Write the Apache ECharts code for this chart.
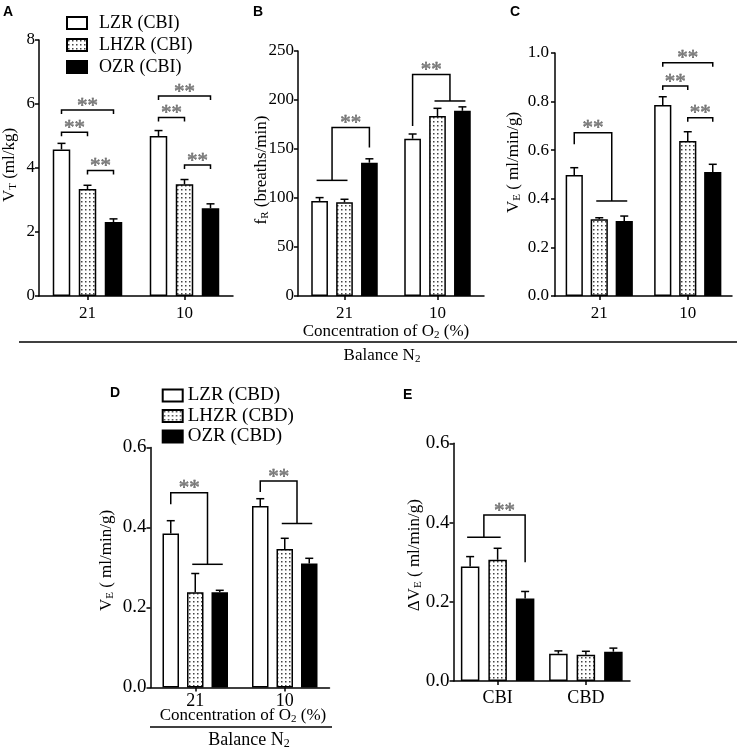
<!DOCTYPE html>
<html>
<head>
<meta charset="utf-8">
<script src="https://cdn.jsdelivr.net/npm/echarts@6/dist/echarts.min.js"></script>
<style>html,body{margin:0;padding:0;background:#fff}#c{width:737px;height:753px}</style>
</head>
<body>
<div id="c"></div>
<script>
// ---------------- data ----------------
const catsO2 = ['21', '10'];
const catsE = ['CBI', 'CBD'];
const namesCBI = ['LZR (CBI)', 'LHZR (CBI)', 'OZR (CBI)'];
const namesCBD = ['LZR (CBD)', 'LHZR (CBD)', 'OZR (CBD)'];
const namesE = ['LZR', 'LHZR', 'OZR'];

// A: VT (ml/kg), CBI
const vtLZR = [4.58, 5.00],  vtLZRerr = [0.19, 0.17];
const vtLHZR = [3.34, 3.49], vtLHZRerr = [0.12, 0.15];
const vtOZR = [2.31, 2.74],  vtOZRerr = [0.10, 0.14];
// B: fR (breaths/min), CBI
const frLZR = [97, 160.5],   frLZRerr = [3.4, 4.8];
const frLHZR = [95.6, 183.7], frLHZRerr = [3.1, 7.8];
const frOZR = [136, 189],    frOZRerr = [4, 4];
// C: VE (ml/min/g), CBI
const veCbiLZR = [0.498, 0.786],  veCbiLZRerr = [0.030, 0.034];
const veCbiLHZR = [0.316, 0.638], veCbiLHZRerr = [0.006, 0.038];
const veCbiOZR = [0.309, 0.510],  veCbiOZRerr = [0.020, 0.032];
// D: VE (ml/min/g), CBD
const veCbdLZR = [0.385, 0.454],  veCbdLZRerr = [0.032, 0.018];
const veCbdLHZR = [0.238, 0.346], veCbdLHZRerr = [0.047, 0.027];
const veCbdOZR = [0.238, 0.310],  veCbdOZRerr = [0.005, 0.013];
// E: delta VE (ml/min/g)
const dveLZR = [0.289, 0.069],  dveLZRerr = [0.025, 0.007];
const dveLHZR = [0.306, 0.066], dveLHZRerr = [0.029, 0.009];
const dveOZR = [0.208, 0.074],  dveOZRerr = [0.018, 0.009];

// y axis ticks [min, max, interval]
const ticksA = [0, 8, 2];
const ticksB = [0, 250, 50];
const ticksC = [0, 1, 0.2];
const ticksD = [0, 0.6, 0.2];
const ticksE = [0, 0.6, 0.2];

// significance brackets (values in data units; a/b/single = bar index in group)
const sigA = [
  {type: 'pair', cat: 0, a: 0, b: 1, y: 5.12},
  {type: 'pair', cat: 0, a: 0, b: 2, y: 5.81},
  {type: 'pair', cat: 0, a: 1, b: 2, y: 3.92},
  {type: 'pair', cat: 1, a: 0, b: 1, y: 5.58},
  {type: 'pair', cat: 1, a: 0, b: 2, y: 6.25},
  {type: 'pair', cat: 1, a: 1, b: 2, y: 4.09}
];
const sigB = [
  {type: 'group', cat: 0, g: [0, 1], single: 2, lineY: 118, bracketY: 172, legY: 151.6},
  {type: 'group', cat: 1, g: [1, 2], single: 0, lineY: 199, bracketY: 226, legY: 173.5}
];
const sigC = [
  {type: 'group', cat: 0, g: [1, 2], single: 0, lineY: 0.391, bracketY: 0.672, legY: 0.624},
  {type: 'pair', cat: 1, a: 0, b: 1, y: 0.864},
  {type: 'pair', cat: 1, a: 0, b: 2, y: 0.96},
  {type: 'pair', cat: 1, a: 1, b: 2, y: 0.734}
];
const sigD = [
  {type: 'group', cat: 0, g: [1, 2], single: 0, lineY: 0.308, bracketY: 0.487, legY: 0.458},
  {type: 'group', cat: 1, g: [1, 2], single: 0, lineY: 0.41, bracketY: 0.516, legY: 0.489}
];
const sigE = [
  {type: 'group', cat: 0, g: [0, 1], single: 2, lineY: 0.363, bracketY: 0.419, legY: 0.30}
];

// ---------------- styles / layout ----------------
const FONT = 'Liberation Serif';
function dotPattern() {
  const c = document.createElement('canvas');
  c.width = 4; c.height = 4;
  const g = c.getContext('2d');
  g.fillStyle = '#fff'; g.fillRect(0, 0, 4, 4);
  g.fillStyle = '#444'; g.fillRect(1, 1, 1.5, 1.5);
  return c;
}
const DOTS = {image: dotPattern(), repeat: 'repeat'};
const barStyles = [
  {color: '#fff', borderColor: '#000', borderWidth: 1.5},
  {color: DOTS, borderColor: '#000', borderWidth: 1.5},
  {color: '#000', borderColor: '#000', borderWidth: 1.5}
];
const subRich = (size, sub, pad) => ({
  m: {fontSize: size, fontFamily: FONT, color: '#000', fill: '#000'},
  s: {fontSize: sub, fontFamily: FONT, color: '#000', fill: '#000', padding: [pad, 0, 0, 0]}
});

const panels = [
  {grid: {left: 39, top: 40, width: 194, height: 256}, cats: catsO2, names: namesCBI,
   vals: [[vtLZR, vtLZRerr], [vtLHZR, vtLHZRerr], [vtOZR, vtOZRerr]], ticks: ticksA, dec: 0,
   barW: 17.5, gap: 8.5, yName: '{m|V}{s|T}{m| (ml/kg)}', nameGap: 20, namePad: 6,
   sig: sigA, yFont: 17, xFont: 17, xMargin: 9, yMargin: 4},
  {grid: {left: 298, top: 51, width: 186, height: 245}, cats: catsO2, names: namesCBI,
   vals: [[frLZR, frLZRerr], [frLHZR, frLHZRerr], [frOZR, frOZRerr]], ticks: ticksB, dec: 0,
   barW: 16.7, gap: 8.2, yName: '{m|f}{s|R}{m| (breaths/min)}', nameGap: 27, namePad: 7,
   sig: sigB, yFont: 17, xFont: 17, xMargin: 9, yMargin: 4},
  {grid: {left: 555, top: 53, width: 177, height: 243}, cats: catsO2, names: namesCBI,
   vals: [[veCbiLZR, veCbiLZRerr], [veCbiLHZR, veCbiLHZRerr], [veCbiOZR, veCbiOZRerr]], ticks: ticksC, dec: 1,
   barW: 17.2, gap: 7.8, yName: '{m|V}{s|E}{m| ( ml/min/g)}', nameGap: 32, namePad: 24,
   sig: sigC, yFont: 17, xFont: 17, xMargin: 9, yMargin: 6},
  {grid: {left: 150.5, top: 447.5, width: 179, height: 240}, cats: catsO2, names: namesCBD,
   vals: [[veCbdLZR, veCbdLZRerr], [veCbdLHZR, veCbdLHZRerr], [veCbdOZR, veCbdOZRerr]], ticks: ticksD, dec: 1,
   barW: 16.5, gap: 8, yName: '{m|V}{s|E}{m| ( ml/min/g)}', nameGap: 34.5, namePad: 14,
   sig: sigD, yFont: 19, xFont: 18, xMargin: 5, yMargin: 4},
  {grid: {left: 453.5, top: 443.3, width: 176.5, height: 237.7}, cats: catsE, names: namesE,
   vals: [[dveLZR, dveLZRerr], [dveLHZR, dveLHZRerr], [dveOZR, dveOZRerr]], ticks: ticksE, dec: 1,
   barW: 18.5, gap: 9, yName: '{m|ΔV}{s|E}{m| ( ml/min/g)}', nameGap: 30, namePad: 14,
   sig: sigE, yFont: 19, xFont: 18, xMargin: 8, yMargin: 4}
];

// ---------------- option ----------------
const grids = [], xAxes = [], yAxes = [], series = [];
const axisLine = {show: true, lineStyle: {color: '#000', width: 1.5}};
const axisTick = {show: true, length: 4, lineStyle: {color: '#000', width: 1.5}};

panels.forEach((p, pi) => {
  grids.push(Object.assign({outerBoundsMode: 'none', containLabel: false}, p.grid));
  xAxes.push({type: 'category', gridIndex: pi, data: p.cats, boundaryGap: true,
    axisLine, axisTick: Object.assign({alignWithLabel: true}, axisTick),
    axisLabel: {color: '#000', fontFamily: FONT, fontSize: p.xFont, margin: p.xMargin},
    splitLine: {show: false}});
  yAxes.push({type: 'value', gridIndex: pi, min: p.ticks[0], max: p.ticks[1], interval: p.ticks[2],
    axisLine, axisTick,
    axisLabel: {color: '#000', fontFamily: FONT, fontSize: p.yFont, margin: p.yMargin,
      formatter: v => v.toFixed(p.dec)},
    splitLine: {show: false},
    name: p.yName, nameLocation: 'middle', nameGap: p.nameGap, nameMoveOverlap: false,
    nameTextStyle: {rich: subRich(17, 11, 7), padding: [0, 0, 0, p.namePad]}});
  const gapPct = (p.gap / p.barW * 100) + '%';
  p.vals.forEach((sv, si) => {
    series.push({type: 'bar', name: p.names[si], xAxisIndex: pi, yAxisIndex: pi,
      data: sv[0], barWidth: p.barW, barGap: gapPct, itemStyle: barStyles[si],
      silent: true, emphasis: {disabled: true}});
  });
  // error bars
  const edata = [];
  p.vals.forEach((sv, si) => sv[0].forEach((v, ci) => edata.push([ci, v, sv[1][ci], si])));
  series.push({type: 'custom', name: 'err' + pi, xAxisIndex: pi, yAxisIndex: pi, z: 5, silent: true,
    data: edata, encode: {x: 0, y: 1},
    renderItem: (params, api) => {
      const ci = api.value(0), v = api.value(1), e = api.value(2), si = api.value(3);
      const sp = p.barW + p.gap;
      const b = api.coord([ci, v]), t = api.coord([ci, v + e]);
      const x = b[0] + (si - 1) * sp;
      const st = {stroke: '#000', lineWidth: 1.5};
      return {type: 'group', children: [
        {type: 'line', shape: {x1: x, y1: b[1], x2: x, y2: t[1]}, style: st},
        {type: 'line', shape: {x1: x - 4, y1: t[1], x2: x + 4, y2: t[1]}, style: st}
      ]};
    }});
  // significance brackets
  series.push({type: 'custom', name: 'sig' + pi, xAxisIndex: pi, yAxisIndex: pi, z: 6, silent: true,
    data: p.sig.map(s => [s.cat, s.type === 'pair' ? s.y : s.bracketY]), encode: {x: 0, y: 1},
    renderItem: (params, api) => {
      const s = p.sig[params.dataIndex];
      const sp = p.barW + p.gap;
      const c = api.coord([s.cat, 0])[0];
      const Y = v => api.coord([s.cat, v])[1];
      const sx = k => c + (k - 1) * sp;
      const ls = {stroke: '#000', lineWidth: 1.5, fill: null};
      const ch = [];
      let starX, starY;
      if (s.type === 'pair') {
        const xa = sx(s.a), xb = sx(s.b), yb = Y(s.y);
        ch.push({type: 'polyline', shape: {points: [[xa, yb + 4], [xa, yb], [xb, yb], [xb, yb + 4]]}, style: ls});
        starX = (xa + xb) / 2; starY = yb;
      } else {
        const g1 = sx(s.g[0]) - 3, g2 = sx(s.g[1]) + 3, gy = Y(s.lineY), gc = (g1 + g2) / 2;
        const xs = sx(s.single), by = Y(s.bracketY), ly = Y(s.legY);
        ch.push({type: 'line', shape: {x1: g1, y1: gy, x2: g2, y2: gy}, style: ls});
        ch.push({type: 'polyline', shape: {points: [[xs, ly], [xs, by], [gc, by], [gc, gy]]}, style: ls});
        starX = (xs + gc) / 2; starY = by;
      }
      ch.push({type: 'text', style: {text: '**', x: starX, y: starY - 4, align: 'center',
        verticalAlign: 'middle', fontSize: 21, fontFamily: FONT, fill: '#777',
        stroke: '#333', lineWidth: 0.4}});
      return {type: 'group', children: ch};
    }});
});

const legendBase = {orient: 'vertical', icon: 'rect', itemWidth: 20, itemHeight: 12,
  selectedMode: false, inactiveColor: '#000', padding: 0};
const legends = [
  Object.assign({}, legendBase, {data: namesCBI, left: 66, top: 14, itemGap: 4,
    textStyle: {fontFamily: FONT, fontSize: 18, color: '#000', lineHeight: 16, padding: [0, 0, 0, 7]}}),
  Object.assign({}, legendBase, {data: namesCBD, left: 161.7, top: 386, itemGap: 1.5,
    textStyle: {fontFamily: FONT, fontSize: 19, color: '#000', lineHeight: 16}})
];

const letter = (t, x, y) => ({type: 'text', x, y, silent: true,
  style: {text: t, fontFamily: 'Liberation Sans', fontWeight: 'bold', fontSize: 14, fill: '#000', verticalAlign: 'top'}});
const richText = (text, x, y, size) => ({type: 'text', x, y, silent: true,
  style: {text, align: 'center', verticalAlign: 'middle', rich: subRich(size, Math.round(size * 0.65), 7)}});
const hline = (x1, x2, y) => ({type: 'line', silent: true, shape: {x1, y1: y, x2, y2: y},
  style: {stroke: '#000', lineWidth: 1.5}});

const graphic = [
  letter('A', 3, 5), letter('B', 253, 5), letter('C', 510, 5), letter('D', 110, 386), letter('E', 403, 388),
  richText('{m|Concentration of O}{s|2}{m| (%)}', 386, 332, 17),
  hline(19, 737, 342),
  richText('{m|Balance N}{s|2}', 382, 356, 17),
  richText('{m|Concentration of O}{s|2}{m| (%)}', 243, 716, 17),
  hline(150, 332, 727),
  richText('{m|Balance N}{s|2}', 249, 740, 18)
];

const chart = echarts.init(document.getElementById('c'), null, {renderer: 'canvas'});
chart.setOption({
  animation: false,
  backgroundColor: '#fff',
  textStyle: {fontFamily: FONT},
  grid: grids, xAxis: xAxes, yAxis: yAxes, series, legend: legends, graphic
});
</script>
</body>
</html>
